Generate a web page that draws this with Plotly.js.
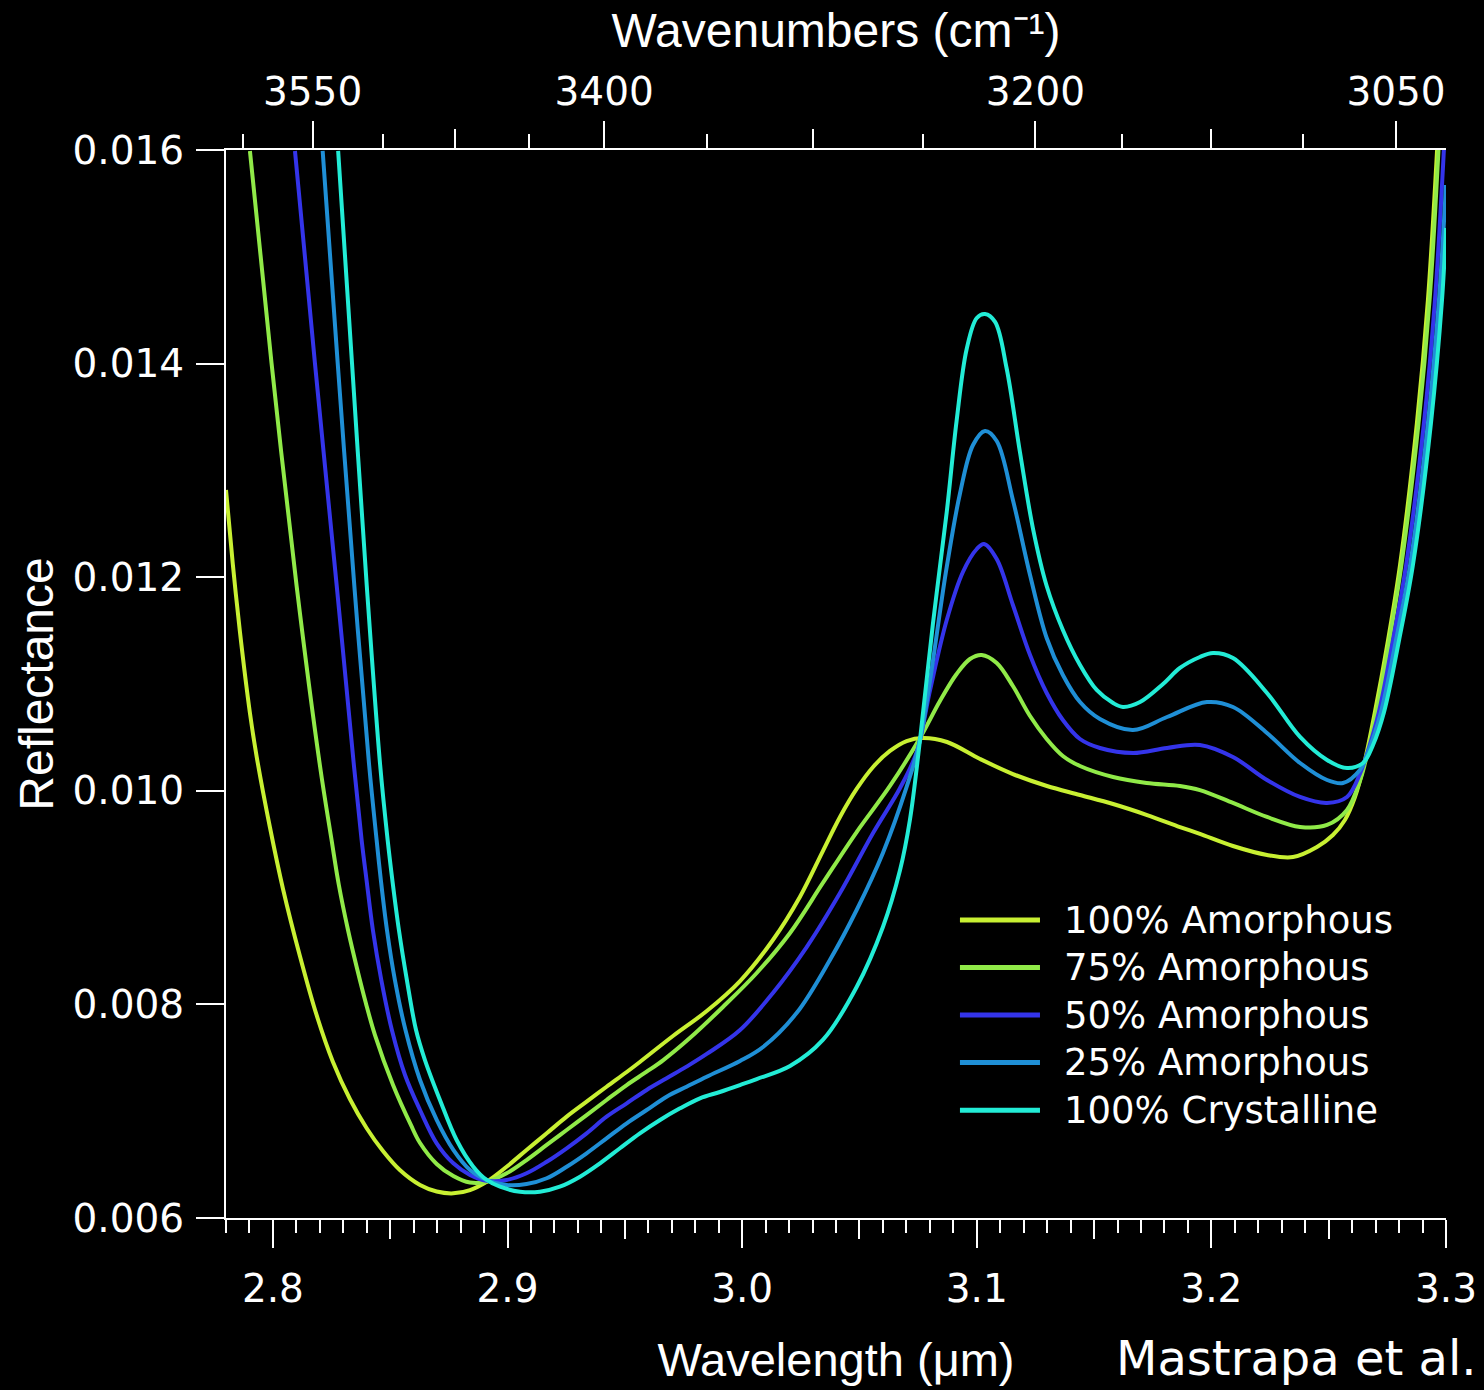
<!DOCTYPE html>
<html>
<head>
<meta charset="utf-8">
<script src="https://cdn.plot.ly/plotly-3.0.1.min.js"></script>
<style>
  html, body { margin: 0; padding: 0; background: #000; }
  #chart { width: 1484px; height: 1390px; }
</style>
</head>
<body>
<div id="chart"></div>
<script>
// ---------------- data ----------------
const seriesNames = ['100% Amorphous', '75% Amorphous', '50% Amorphous', '25% Amorphous', '100% Crystalline'];
const seriesColors = ['#c8f032', '#90ea48', '#3434ea', '#1f8fd6', '#22ecd6'];

const wlA100 = [2.7800, 2.7829, 2.7859, 2.7902, 2.7931, 2.7987, 2.8043, 2.8115, 2.8186, 2.8256, 2.8328, 2.8399, 2.8469, 2.8541, 2.8627, 2.8698, 2.8769, 2.8840, 2.8911, 2.8996, 2.9081, 2.9167, 2.9252, 2.9337, 2.9422, 2.9508, 2.9564, 2.9705, 2.9849, 2.9991, 3.0131, 3.0246, 3.0344, 3.0417, 3.0488, 3.0558, 3.0630, 3.0701, 3.0771, 3.0873, 3.1014, 3.1154, 3.1299, 3.1440, 3.1581, 3.1726, 3.1866, 3.1951, 3.2092, 3.2237, 3.2348, 3.2450, 3.2518, 3.2569, 3.2612, 3.2650, 3.2697, 3.2753, 3.2804, 3.2876, 3.2923, 3.2962];
const rA100  = [0.012816, 0.012124, 0.011496, 0.010728, 0.010316, 0.009661, 0.009081, 0.008453, 0.007901, 0.007461, 0.007114, 0.006843, 0.006627, 0.006449, 0.006309, 0.006248, 0.006231, 0.006262, 0.006340, 0.006480, 0.006637, 0.006793, 0.006949, 0.007089, 0.007229, 0.007367, 0.007461, 0.007704, 0.007938, 0.008219, 0.008603, 0.009006, 0.009436, 0.009755, 0.010017, 0.010223, 0.010373, 0.010466, 0.010494, 0.010457, 0.010298, 0.010157, 0.010045, 0.009961, 0.009876, 0.009773, 0.009661, 0.009596, 0.009483, 0.009399, 0.009380, 0.009474, 0.009586, 0.009727, 0.009942, 0.010242, 0.010738, 0.011412, 0.012114, 0.013444, 0.014596, 0.016000];

const wlA75 = [2.7902, 2.7994, 2.8101, 2.8200, 2.8250, 2.8281, 2.8320, 2.8358, 2.8396, 2.8435, 2.8512, 2.8588, 2.8627, 2.8698, 2.8769, 2.8840, 2.8911, 2.8996, 2.9081, 2.9167, 2.9252, 2.9337, 2.9422, 2.9508, 2.9593, 2.9664, 2.9777, 2.9918, 3.0062, 3.0204, 3.0344, 3.0488, 3.0630, 3.0758, 3.0843, 3.0914, 3.0971, 3.1021, 3.1085, 3.1154, 3.1227, 3.1298, 3.1367, 3.1440, 3.1581, 3.1724, 3.1866, 3.1951, 3.2092, 3.2237, 3.2378, 3.2493, 3.2578, 3.2633, 3.2655, 3.2704, 3.2759, 3.2810, 3.2883, 3.2930, 3.2968];
const rA75  = [0.015991, 0.014006, 0.011918, 0.010242, 0.009539, 0.009118, 0.008697, 0.008341, 0.008013, 0.007713, 0.007245, 0.006871, 0.006702, 0.006506, 0.006393, 0.006332, 0.006340, 0.006419, 0.006543, 0.006684, 0.006824, 0.006964, 0.007105, 0.007245, 0.007370, 0.007479, 0.007685, 0.007976, 0.008294, 0.008669, 0.009137, 0.009614, 0.010045, 0.010494, 0.010841, 0.011094, 0.011234, 0.011272, 0.011197, 0.010981, 0.010700, 0.010485, 0.010326, 0.010232, 0.010129, 0.010073, 0.010045, 0.010007, 0.009886, 0.009755, 0.009661, 0.009680, 0.009820, 0.010092, 0.010260, 0.010738, 0.011412, 0.012114, 0.013444, 0.014596, 0.016000];

const wlA50 = [2.8094, 2.8179, 2.8272, 2.8345, 2.8378, 2.8399, 2.8426, 2.8462, 2.8507, 2.8563, 2.8627, 2.8698, 2.8769, 2.8840, 2.8911, 2.8996, 2.9081, 2.9167, 2.9252, 2.9337, 2.9422, 2.9508, 2.9593, 2.9678, 2.9763, 2.9849, 2.9991, 3.0131, 3.0275, 3.0417, 3.0558, 3.0673, 3.0744, 3.0801, 3.0872, 3.0941, 3.1000, 3.1031, 3.1085, 3.1154, 3.1227, 3.1298, 3.1367, 3.1440, 3.1525, 3.1666, 3.1811, 3.1951, 3.2092, 3.2237, 3.2378, 3.2493, 3.2578, 3.2633, 3.2659, 3.2714, 3.2774, 3.2830, 3.2906, 3.2953, 3.2991];
const rA50  = [0.015991, 0.014006, 0.011918, 0.010242, 0.009539, 0.009165, 0.008697, 0.008228, 0.007760, 0.007339, 0.007011, 0.006699, 0.006512, 0.006403, 0.006349, 0.006356, 0.006419, 0.006527, 0.006653, 0.006793, 0.006949, 0.007074, 0.007199, 0.007308, 0.007417, 0.007536, 0.007760, 0.008107, 0.008537, 0.009043, 0.009605, 0.010026, 0.010363, 0.010944, 0.011599, 0.012049, 0.012264, 0.012311, 0.012170, 0.011740, 0.011272, 0.010916, 0.010663, 0.010485, 0.010401, 0.010354, 0.010401, 0.010429, 0.010316, 0.010101, 0.009942, 0.009886, 0.009942, 0.010157, 0.010316, 0.010738, 0.011412, 0.012114, 0.013444, 0.014596, 0.016000];

const wlA25 = [2.8212, 2.8276, 2.8347, 2.8410, 2.8442, 2.8460, 2.8486, 2.8520, 2.8565, 2.8627, 2.8698, 2.8769, 2.8840, 2.8911, 2.8996, 2.9081, 2.9167, 2.9252, 2.9337, 2.9422, 2.9508, 2.9593, 2.9678, 2.9763, 2.9849, 2.9991, 3.0089, 3.0232, 3.0374, 3.0488, 3.0600, 3.0701, 3.0758, 3.0872, 3.0928, 3.0984, 3.1035, 3.1085, 3.1154, 3.1227, 3.1298, 3.1367, 3.1440, 3.1525, 3.1666, 3.1811, 3.1981, 3.2092, 3.2237, 3.2378, 3.2493, 3.2561, 3.2633, 3.2663, 3.2723, 3.2787, 3.2847, 3.2923, 3.2970, 3.3000];
const rA25  = [0.015991, 0.014006, 0.011918, 0.010242, 0.009539, 0.009165, 0.008697, 0.008228, 0.007760, 0.007292, 0.006918, 0.006637, 0.006449, 0.006356, 0.006309, 0.006318, 0.006372, 0.006480, 0.006606, 0.006746, 0.006887, 0.007011, 0.007136, 0.007229, 0.007323, 0.007470, 0.007601, 0.007919, 0.008416, 0.008884, 0.009418, 0.010036, 0.010476, 0.012096, 0.012779, 0.013238, 0.013369, 0.013275, 0.012723, 0.012021, 0.011431, 0.011084, 0.010831, 0.010672, 0.010569, 0.010691, 0.010831, 0.010785, 0.010541, 0.010260, 0.010101, 0.010073, 0.010195, 0.010335, 0.010738, 0.011412, 0.012114, 0.013444, 0.014596, 0.015672];

const wlC100 = [2.8278, 2.8337, 2.8400, 2.8457, 2.8489, 2.8509, 2.8537, 2.8571, 2.8610, 2.8648, 2.8712, 2.8783, 2.8854, 2.8911, 2.8968, 2.9053, 2.9138, 2.9223, 2.9309, 2.9394, 2.9479, 2.9564, 2.9650, 2.9735, 2.9820, 2.9905, 2.9991, 3.0062, 3.0204, 3.0344, 3.0488, 3.0600, 3.0673, 3.0715, 3.0758, 3.0813, 3.0872, 3.0914, 3.0957, 3.1000, 3.1035, 3.1078, 3.1127, 3.1184, 3.1240, 3.1298, 3.1367, 3.1440, 3.1511, 3.1581, 3.1623, 3.1696, 3.1794, 3.1866, 3.1951, 3.2007, 3.2092, 3.2237, 3.2378, 3.2493, 3.2578, 3.2646, 3.2689, 3.2736, 3.2800, 3.2859, 3.2936, 3.2983, 3.3000];
const rC100  = [0.015991, 0.014006, 0.011918, 0.010242, 0.009539, 0.009165, 0.008697, 0.008228, 0.007760, 0.007479, 0.007105, 0.006730, 0.006480, 0.006356, 0.006293, 0.006246, 0.006246, 0.006293, 0.006387, 0.006512, 0.006653, 0.006793, 0.006918, 0.007027, 0.007121, 0.007180, 0.007245, 0.007301, 0.007423, 0.007667, 0.008163, 0.008725, 0.009258, 0.009727, 0.010476, 0.011562, 0.012610, 0.013463, 0.014137, 0.014427, 0.014464, 0.014390, 0.013959, 0.013172, 0.012451, 0.011918, 0.011506, 0.011178, 0.010944, 0.010822, 0.010785, 0.010831, 0.011000, 0.011150, 0.011253, 0.011290, 0.011243, 0.010916, 0.010504, 0.010288, 0.010213, 0.010260, 0.010429, 0.010738, 0.011412, 0.012114, 0.013444, 0.014596, 0.015270];

// axis tick labels
const wavelengthTicks = [2.8, 2.9, 3.0, 3.1, 3.2, 3.3];
const wavelengthMedTicks = [2.85, 2.95, 3.05, 3.15, 3.25];
const wavenumberMajor = [3550, 3400, 3200, 3050];
const wavenumberMedium = [3475, 3300, 3125];
const wavenumberMinor = [3587.5, 3512.5, 3437.5, 3350, 3250, 3162.5, 3087.5];
const reflectanceTicks = [0.006, 0.008, 0.010, 0.012, 0.014, 0.016];

// ---------------- build ----------------
const xs = [wlA100, wlA75, wlA50, wlA25, wlC100];
const ys = [rA100, rA75, rA50, rA25, rC100];
// every overlaid axis (top scale, medium ticks) shares the same range; each carries a series so it is drawn
const traceAxes = ['x', 'x2', 'x3', 'x4', 'x4'];

const traces = xs.map((x, i) => ({
  type: 'scatter', mode: 'lines', x: x, y: ys[i], name: seriesNames[i],
  xaxis: traceAxes[i], yaxis: 'y',
  line: { color: seriesColors[i], width: 4, shape: 'spline', smoothing: 1 },
  showlegend: false, hoverinfo: 'skip'
}));

const toWl = wn => 1e4 / wn;
const X_RANGE = [2.78, 3.3];
const tickFont = { family: 'DejaVu Sans, sans-serif', size: 39, color: '#ffffff' };

const annotations = [];
const shapes = [];
const legX0 = 0.6016, legX1 = 0.6672, legTx = 0.6852, legY0 = 0.279, legStep = 0.0445;
seriesNames.forEach((nm, i) => {
  const yy = legY0 - i * legStep;
  shapes.push({ type: 'line', xref: 'paper', yref: 'paper', x0: legX0, x1: legX1, y0: yy, y1: yy,
                line: { color: seriesColors[i], width: 5 } });
  annotations.push({ xref: 'paper', yref: 'paper', x: legTx, y: yy, xanchor: 'left', yanchor: 'middle',
                     text: nm, showarrow: false,
                     font: { family: 'DejaVu Sans, sans-serif', size: 37, color: '#ffffff' } });
});
annotations.push({ xref: 'paper', yref: 'paper', x: 0.8775, y: -0.1311, xanchor: 'center', yanchor: 'middle',
                   text: 'Mastrapa et al.', showarrow: false,
                   font: { family: 'DejaVu Sans, sans-serif', size: 48, color: '#ffffff' } });

const baseAx = { range: X_RANGE, showgrid: false, zeroline: false, fixedrange: true };

const layout = {
  width: 1484, height: 1390,
  paper_bgcolor: '#000000', plot_bgcolor: '#000000',
  margin: { l: 226, r: 38, t: 150, b: 172 },
  showlegend: false,
  xaxis: Object.assign({}, baseAx, {
    side: 'bottom', anchor: 'y',
    showline: true, linecolor: '#ffffff', linewidth: 2,
    ticks: 'outside', ticklen: 28, tickwidth: 2, tickcolor: '#ffffff',
    tickmode: 'array', tickvals: wavelengthTicks, ticktext: wavelengthTicks.map(v => v.toFixed(1)),
    tickfont: tickFont, ticklabelstandoff: 7,
    minor: { ticks: 'outside', dtick: 0.01, tick0: 2.8, ticklen: 13, tickwidth: 2, tickcolor: '#ffffff', showgrid: false },
    title: { text: 'Wavelength (μm)', font: { family: 'Liberation Sans, Arial, sans-serif', size: 47, color: '#ffffff' }, standoff: 33 }
  }),
  xaxis2: Object.assign({}, baseAx, {
    overlaying: 'x', side: 'top', anchor: 'y',
    showline: true, linecolor: '#ffffff', linewidth: 2,
    ticks: 'outside', ticklen: 27, tickwidth: 2, tickcolor: '#ffffff',
    tickmode: 'array', tickvals: wavenumberMajor.map(toWl), ticktext: wavenumberMajor.map(String),
    tickfont: tickFont,
    minor: { ticks: 'outside', tickmode: 'array', tickvals: wavenumberMinor.map(toWl), ticklen: 14, tickwidth: 2, tickcolor: '#ffffff', showgrid: false },
    title: { text: 'Wavenumbers (cm⁻¹)', font: { family: 'Liberation Sans, Arial, sans-serif', size: 48, color: '#ffffff' }, standoff: 7 }
  }),
  xaxis3: Object.assign({}, baseAx, {
    overlaying: 'x', side: 'bottom', anchor: 'y',
    showline: false, ticks: 'outside', ticklen: 20, tickwidth: 2, tickcolor: '#ffffff',
    tickmode: 'array', tickvals: wavelengthMedTicks, showticklabels: false
  }),
  xaxis4: Object.assign({}, baseAx, {
    overlaying: 'x', side: 'top', anchor: 'y',
    showline: false, ticks: 'outside', ticklen: 20, tickwidth: 2, tickcolor: '#ffffff',
    tickmode: 'array', tickvals: wavenumberMedium.map(toWl), showticklabels: false
  }),
  yaxis: {
    range: [0.006, 0.016], showgrid: false, zeroline: false, fixedrange: true,
    showline: true, linecolor: '#ffffff', linewidth: 2,
    ticks: 'outside', ticklen: 28, tickwidth: 2, tickcolor: '#ffffff',
    tickmode: 'array', tickvals: reflectanceTicks, ticktext: reflectanceTicks.map(v => v.toFixed(3)),
    tickfont: tickFont, ticklabelstandoff: 4,
    title: { text: 'Reflectance', font: { family: 'Liberation Sans, Arial, sans-serif', size: 48, color: '#ffffff' }, standoff: 4 }
  },
  shapes: shapes,
  annotations: annotations
};

Plotly.newPlot('chart', traces, layout, { staticPlot: true, displayModeBar: false }).then(gd => {
  // drop empty placeholder text nodes (untitled overlay axes) that draw nothing
  gd.querySelectorAll('text').forEach(t => { if (!t.textContent.trim()) t.remove(); });
});
</script>
</body>
</html>
